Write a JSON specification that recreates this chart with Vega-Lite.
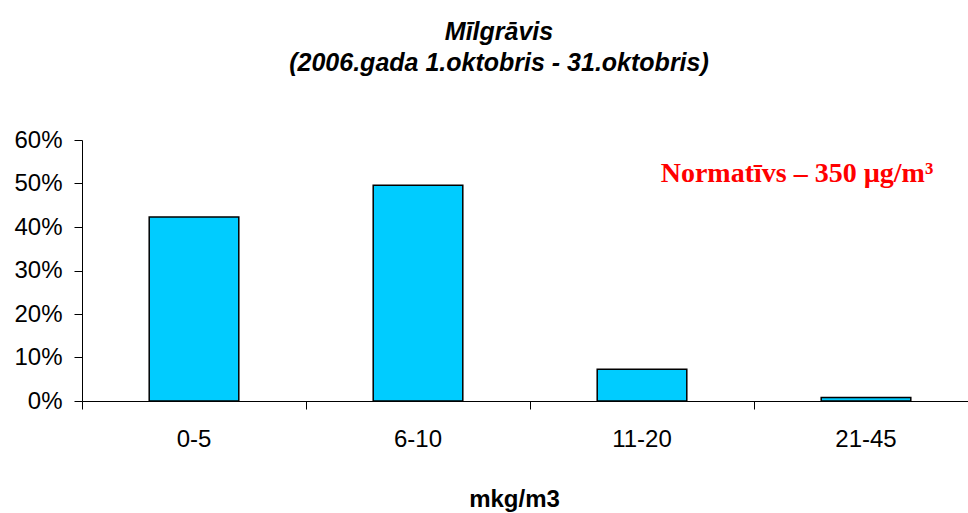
{
  "$schema": "https://vega.github.io/schema/vega-lite/v6.json",
  "autosize": "none",
  "width": 896,
  "height": 261,
  "padding": {"left": 82, "top": 140, "right": 0, "bottom": 112},
  "background": "white",
  "config": {"view": {"stroke": null}, "font": "Liberation Sans"},
  "title": {
    "text": ["Mīlgrāvis", "(2006.gada 1.oktobris - 31.oktobris)"],
    "font": "Liberation Sans",
    "fontSize": 25,
    "fontStyle": "italic",
    "fontWeight": "bold",
    "lineHeight": 31,
    "anchor": "middle",
    "dx": -31,
    "offset": 52,
    "color": "black"
  },
  "data": {
    "values": [
      {"range": "0-5", "share": 0.423},
      {"range": "6-10", "share": 0.496},
      {"range": "11-20", "share": 0.073},
      {"range": "21-45", "share": 0.008}
    ]
  },
  "layer": [
    {
      "mark": {"type": "bar", "fill": "#00CCFF", "stroke": "black", "strokeWidth": 1.5, "width": {"band": 0.4}},
      "encoding": {
        "x": {
          "field": "range",
          "type": "nominal",
          "sort": null,
          "scale": {"paddingInner": 0, "paddingOuter": 0},
          "axis": {
            "title": "mkg/m3",
            "titleFont": "Liberation Sans",
            "titleFontSize": 24,
            "titleFontWeight": "bold",
            "titleColor": "black",
            "titlePadding": 36,
            "titleX": 432,
            "labelAngle": 0,
            "labelFont": "Liberation Sans",
            "labelFontSize": 24,
            "labelColor": "black",
            "labelPadding": 18,
            "bandPosition": 0,
            "tickSize": 8,
            "tickColor": "black",
            "domainColor": "black",
            "grid": false
          }
        },
        "y": {
          "field": "share",
          "type": "quantitative",
          "scale": {"domain": [0, 0.6], "nice": false},
          "axis": {
            "title": null,
            "format": ".0%",
            "values": [0, 0.1, 0.2, 0.3, 0.4, 0.5, 0.6],
            "labelFont": "Liberation Sans",
            "labelFontSize": 24,
            "labelColor": "black",
            "labelPadding": 12,
            "tickSize": 8,
            "tickColor": "black",
            "domainColor": "black",
            "grid": false
          }
        }
      }
    },
    {
      "data": {"values": [{"range": "21-45", "share": 0.503, "label": "Normatīvs – 350 µg/m³"}]},
      "mark": {
        "type": "text",
        "font": "Liberation Serif",
        "fontSize": 28,
        "fontWeight": "bold",
        "color": "#FF0000",
        "align": "center",
        "baseline": "alphabetic",
        "dx": -69
      },
      "encoding": {
        "x": {"field": "range", "type": "nominal", "sort": null},
        "y": {"field": "share", "type": "quantitative"},
        "text": {"field": "label"}
      }
    }
  ]
}
